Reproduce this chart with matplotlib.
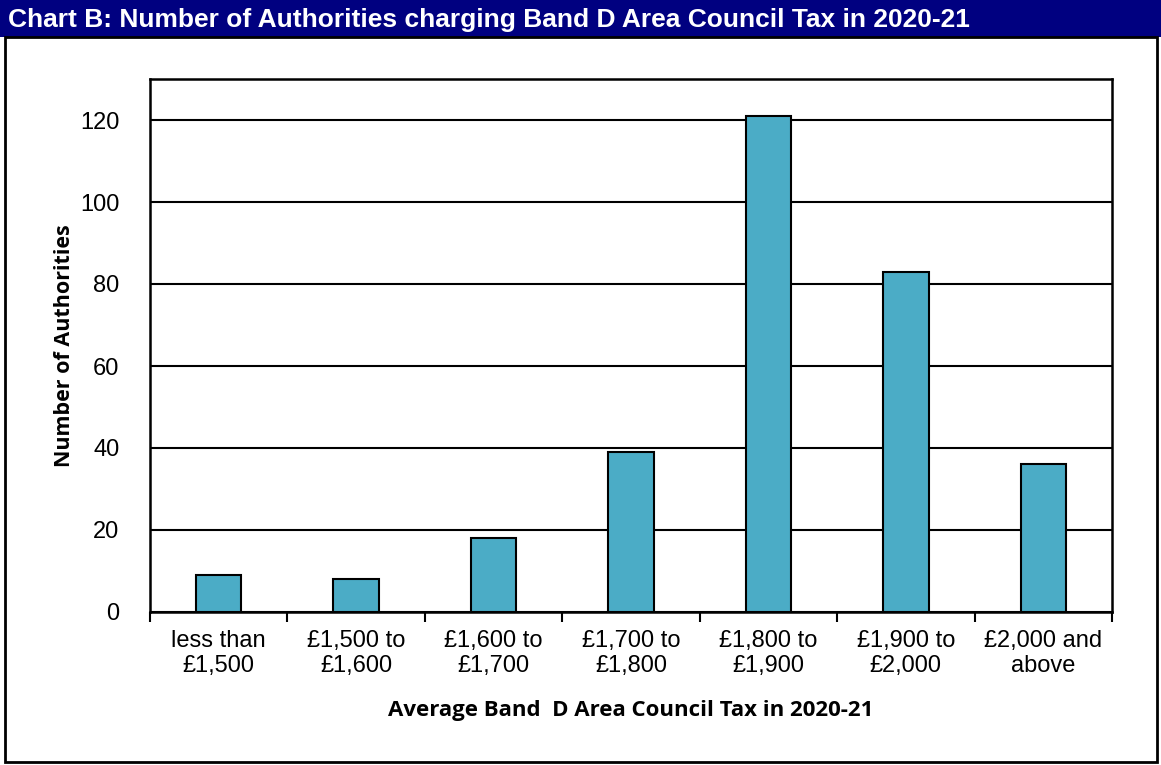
import matplotlib.pyplot as plt
from matplotlib.patches import Rectangle

categories = ["less than\n£1,500", "£1,500 to\n£1,600", "£1,600 to\n£1,700",
              "£1,700 to\n£1,800", "£1,800 to\n£1,900", "£1,900 to\n£2,000",
              "£2,000 and\nabove"]
authorities = [9, 8, 18, 39, 121, 83, 36]
y_ticks = [0, 20, 40, 60, 80, 100, 120]

title = "Chart B: Number of Authorities charging Band D Area Council Tax in 2020-21"
x_label = "Average Band  D Area Council Tax in 2020-21"
y_label = "Number of Authorities"

W, H = 1161, 765
fig = plt.figure(figsize=(W / 100, H / 100), dpi=100)

# Title banner
fig.patches.append(Rectangle((0, 1 - 37 / H), 1, 37 / H, transform=fig.transFigure,
                             facecolor="#000080", edgecolor="none", zorder=0))
fig.text(8 / W, 1 - 20 / H, title, color="white", fontsize=19, fontweight="bold",
         family="Liberation Sans", va="center", ha="left")

# Outer frame below the banner
fig.patches.append(Rectangle((5 / W, 3 / H), 1152 / W, (H - 40) / H,
                             transform=fig.transFigure, facecolor="none",
                             edgecolor="black", linewidth=2, zorder=1))

ax = fig.add_axes([150 / W, 1 - 612 / H, (1112 - 150) / W, (612 - 79) / H])
x = list(range(len(categories)))
ax.bar(x, authorities, width=0.33, color="#4BACC6", edgecolor="black",
       linewidth=1.5, zorder=3)
ax.set_xlim(-0.5, len(categories) - 0.5)
ax.set_ylim(0, 130)
ax.set_yticks(y_ticks)
ax.yaxis.grid(True, color="black", linewidth=1.5, zorder=0)
ax.set_axisbelow(True)
ax.tick_params(axis="y", length=0, pad=22, labelsize=17)
for lab in ax.get_yticklabels():
    lab.set_family("Liberation Sans")

ax.set_xticks(x)
ax.set_xticklabels(categories, fontsize=17, family="Liberation Sans",
                   linespacing=1.2)
ax.tick_params(axis="x", length=0, pad=13)
ax.set_xticks([i + 0.5 for i in range(-1, len(categories))], minor=True)
ax.tick_params(axis="x", which="minor", length=7, width=1.5, direction="out")

for s in ax.spines.values():
    s.set_linewidth(1.8)

ax.set_xlabel(x_label, fontsize=16, fontweight="bold", family="Open Sans",
              labelpad=16)
ax.set_ylabel(y_label, fontsize=15.5, fontweight="bold", family="Open Sans")
ax.yaxis.set_label_coords(-0.078, 0.5)

fig.savefig("out.png", dpi=100)
